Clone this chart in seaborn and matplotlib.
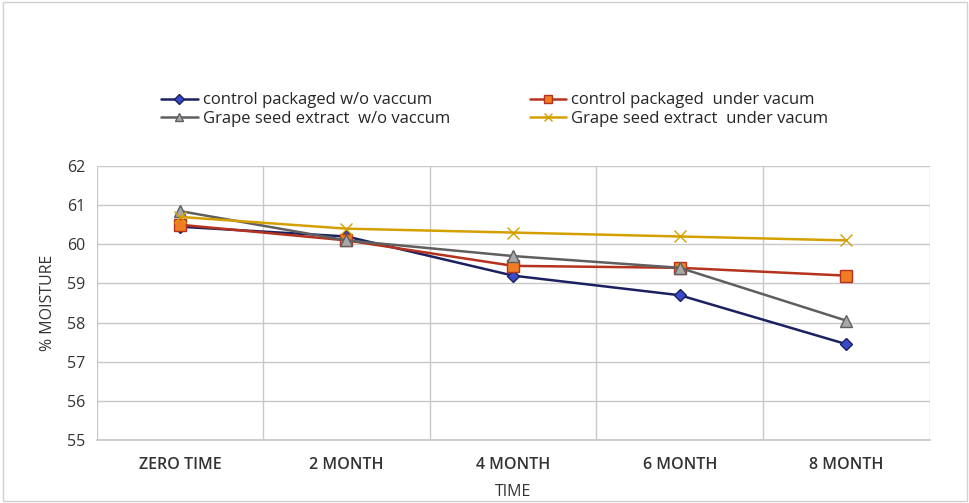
import matplotlib
matplotlib.use("Agg")
import matplotlib.pyplot as plt
import seaborn as sns
import pandas as pd
from matplotlib.lines import Line2D

categories = ["ZERO TIME", "2 MONTH", "4 MONTH", "6 MONTH", "8 MONTH"]
series_names = ["control packaged w/o vaccum", "control packaged  under vacum",
                "Grape seed extract  w/o vaccum", "Grape seed extract  under vacum"]
control_wo = [60.45, 60.2, 59.2, 58.7, 57.45]
control_under = [60.5, 60.1, 59.45, 59.4, 59.2]
grape_wo = [60.85, 60.1, 59.7, 59.4, 58.05]
grape_under = [60.7, 60.4, 60.3, 60.2, 60.1]
yticks = [55, 56, 57, 58, 59, 60, 61, 62]

values = [control_wo, control_under, grape_wo, grape_under]
df = pd.DataFrame({
    "time": categories * 4,
    "moisture": sum(values, []),
    "series": [s for s in series_names for _ in categories],
})

sns.set_theme(style="white")
plt.rcParams['font.family'] = ['Open Sans', 'DejaVu Sans']

fig = plt.figure(figsize=(9.7, 5.03), dpi=100)
ax = fig.add_axes([0.0995, 0.125, 0.859, 0.545])

styles = {
    series_names[0]: dict(line="#1A2060", marker="D", mfc="#3B4BC8", mec="#1A2060", ms=6),
    series_names[1]: dict(line="#B5321E", marker="s", mfc="#F07D22", mec="#B5321E", ms=8),
    series_names[2]: dict(line="#5F5F5F", marker="^", mfc="#A8A8A8", mec="#5F5F5F", ms=8),
    series_names[3]: dict(line="#D4A000", marker="x", mfc="#D4A000", mec="#D4A000", ms=8),
}

for name in series_names:
    st = styles[name]
    sub = df[df["series"] == name]
    sns.lineplot(data=sub, x="time", y="moisture", ax=ax, sort=False,
                 color=st["line"], linewidth=1.8, marker=st["marker"],
                 markersize=st["ms"], markerfacecolor=st["mfc"],
                 markeredgecolor=st["mec"], markeredgewidth=1.0, legend=False)

ax.set_xlim(-0.5, len(categories) - 0.5)
ax.set_ylim(min(yticks), max(yticks))
ax.set_yticks(yticks)
ax.set_xticks(range(len(categories)))
ax.set_xticklabels(categories, fontsize=11.5, fontweight="semibold", color="#333333")
ax.set_xticks([i - 0.5 for i in range(len(categories) + 1)], minor=True)
ax.tick_params(axis="y", labelsize=11.5, colors="#333333", length=0, pad=8)
ax.tick_params(axis="x", which="both", length=0, pad=12)
ax.grid(axis="y", which="major", color="#C8C8C8", linewidth=1)
ax.grid(axis="x", which="minor", color="#C8C8C8", linewidth=1)
ax.grid(axis="x", which="major", visible=False)
ax.set_axisbelow(True)
for sp in ax.spines.values():
    sp.set_visible(False)
ax.spines["bottom"].set_visible(True)
ax.spines["bottom"].set_color("#C8C8C8")

ax.set_xlabel("TIME", fontsize=11.5, color="#333333", labelpad=8)
ax.set_ylabel("% MOISTURE", fontsize=11.5, color="#333333", labelpad=8)

handles = []
for name in series_names:
    st = styles[name]
    handles.append(Line2D([0], [0], color=st["line"], linewidth=1.8, marker=st["marker"],
                          markersize=st["ms"] * 0.8, markerfacecolor=st["mfc"],
                          markeredgecolor=st["mec"]))
order = [0, 2, 1, 3]
fig.legend([handles[i] for i in order], [series_names[i] for i in order],
           loc="center", bbox_to_anchor=(0.51, 0.782), ncol=2,
           frameon=False, fontsize=12, handlelength=2.2, columnspacing=4.8,
           handletextpad=0.3, labelspacing=0.15)

fig.patches.append(plt.Rectangle((0.003, 0.003), 0.994, 0.994, transform=fig.transFigure,
                                 fill=False, edgecolor="#D0D0D0", linewidth=1))

fig.savefig("out.png", dpi=100)
